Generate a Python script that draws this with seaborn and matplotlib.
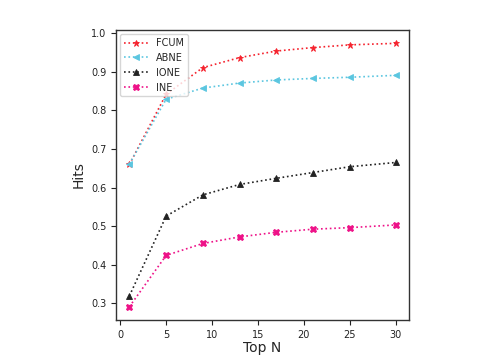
import pandas as pd
import seaborn as sns
import matplotlib.pyplot as plt

top_n = [1, 5, 9, 13, 17, 21, 25, 30]
fcum = [0.660, 0.842, 0.911, 0.937, 0.954, 0.963, 0.970, 0.974]
abne = [0.661, 0.829, 0.858, 0.871, 0.879, 0.883, 0.886, 0.891]
ione = [0.319, 0.526, 0.581, 0.608, 0.624, 0.639, 0.654, 0.665]
ine = [0.291, 0.424, 0.455, 0.472, 0.484, 0.492, 0.496, 0.503]

series = {'FCUM': fcum, 'ABNE': abne, 'IONE': ione, 'INE': ine}
colors = {'FCUM': '#f5222d', 'ABNE': '#5bc6e0', 'IONE': '#222222', 'INE': '#ee1188'}
markers = {'FCUM': '*', 'ABNE': '<', 'IONE': '^', 'INE': 'X'}

rows = []
for name, vals in series.items():
    for x, y in zip(top_n, vals):
        rows.append({'Top N': x, 'Hits': y, 'method': name})
df = pd.DataFrame(rows)

sns.set_style("ticks")
fig = plt.figure(figsize=(4.94, 3.59), dpi=100)
ax = fig.add_axes([0.235, 0.109, 0.593, 0.807])

for name in series:
    sub = df[df['method'] == name]
    sns.lineplot(data=sub, x='Top N', y='Hits', ax=ax, color=colors[name],
                 marker=markers[name], linestyle=':', linewidth=1.2,
                 markersize=5, markeredgecolor=colors[name],
                 markeredgewidth=0.6, label=name)

for sp in ax.spines.values():
    sp.set_color('#333333')
    sp.set_linewidth(1.0)

ax.set_xticks([0, 5, 10, 15, 20, 25, 30])
ax.tick_params(labelsize=7, colors='#222222')
ax.set_xlabel('Top N', fontsize=10, labelpad=1)
ax.set_ylabel('Hits', fontsize=10)
ax.legend(loc='upper left', fontsize=7, handlelength=2.5, borderaxespad=0.4)

fig.savefig('out.png', dpi=100)
